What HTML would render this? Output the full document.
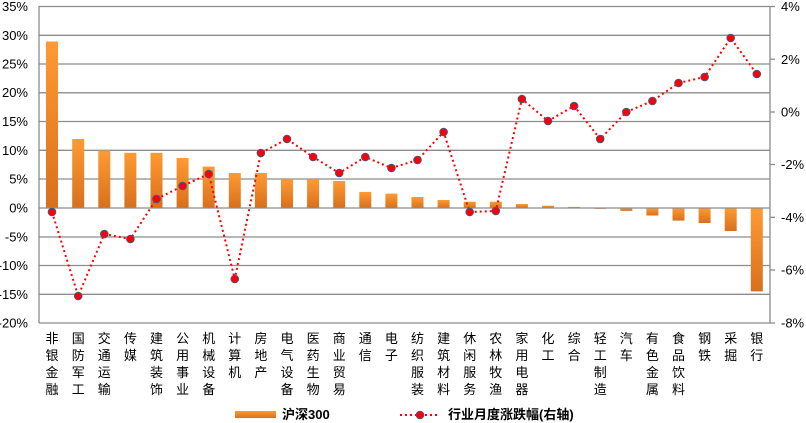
<!DOCTYPE html>
<html><head><meta charset="utf-8"><style>
html,body{margin:0;padding:0;background:#fff;}
svg{display:block;}
text{font-family:"Liberation Sans","Noto Sans CJK SC",sans-serif;fill:#000;}
</style></head><body>
<svg width="806" height="423" viewBox="0 0 806 423" xmlns="http://www.w3.org/2000/svg">
<defs>
<linearGradient id="g" x1="0" y1="0" x2="0" y2="1">
<stop offset="0" stop-color="#ff9a33"/><stop offset="1" stop-color="#d8701c"/>
</linearGradient>
</defs>
<g stroke="#8c8c8c" stroke-width="1.3">
<line x1="39" y1="6.5" x2="770" y2="6.5"/>
<line x1="39" y1="35.3" x2="770" y2="35.3"/>
<line x1="39" y1="64" x2="770" y2="64"/>
<line x1="39" y1="92.8" x2="770" y2="92.8"/>
<line x1="39" y1="121.5" x2="770" y2="121.5"/>
<line x1="39" y1="150.3" x2="770" y2="150.3"/>
<line x1="39" y1="179" x2="770" y2="179"/>
<line x1="39" y1="237" x2="770" y2="237"/>
<line x1="39" y1="265.5" x2="770" y2="265.5"/>
<line x1="39" y1="294.3" x2="770" y2="294.3"/>
<line x1="39" y1="323" x2="770" y2="323"/>
<line x1="39" y1="6" x2="39" y2="323"/>
<line x1="770" y1="6" x2="770" y2="323"/>
<line x1="770" y1="6.5" x2="775" y2="6.5"/>
<line x1="770" y1="59.2" x2="775" y2="59.2"/>
<line x1="770" y1="112" x2="775" y2="112"/>
<line x1="770" y1="164.5" x2="775" y2="164.5"/>
<line x1="770" y1="217.3" x2="775" y2="217.3"/>
<line x1="770" y1="270" x2="775" y2="270"/>
<line x1="770" y1="323" x2="775" y2="323"/>
</g>
<g font-size="13" text-anchor="end">
<text x="28" y="11">35%</text><text x="28" y="40">30%</text><text x="28" y="68.5">25%</text><text x="28" y="97">20%</text><text x="28" y="126">15%</text><text x="28" y="155">10%</text><text x="28" y="183.5">5%</text><text x="28" y="212.5">0%</text><text x="28" y="241.5">-5%</text><text x="28" y="270">-10%</text><text x="28" y="299">-15%</text><text x="28" y="327.5">-20%</text>
</g>
<g font-size="13">
<text x="781" y="11">4%</text><text x="781" y="64">2%</text><text x="781" y="116.5">0%</text><text x="781" y="169">-2%</text><text x="781" y="222">-4%</text><text x="781" y="274.5">-6%</text><text x="781" y="327.5">-8%</text>
</g>
<g fill="url(#g)">
<rect x="46" y="41.5" width="12" height="166.5"/>
<rect x="72.2" y="139" width="12" height="69"/>
<rect x="98.3" y="150.5" width="12" height="57.5"/>
<rect x="124.4" y="152.8" width="12" height="55.2"/>
<rect x="150.5" y="152.8" width="12" height="55.2"/>
<rect x="176.6" y="158" width="12" height="50"/>
<rect x="202.7" y="166.6" width="12" height="41.4"/>
<rect x="228.8" y="173" width="12" height="35"/>
<rect x="254.9" y="173" width="12" height="35"/>
<rect x="281" y="179.3" width="12" height="28.7"/>
<rect x="307.1" y="179.3" width="12" height="28.7"/>
<rect x="333.2" y="181" width="12" height="27"/>
<rect x="359.3" y="191.9" width="12" height="16.1"/>
<rect x="385.4" y="193.6" width="12" height="14.4"/>
<rect x="411.5" y="197" width="12" height="11"/>
<rect x="437.6" y="200" width="12" height="8"/>
<rect x="463.7" y="201.7" width="12" height="6.3"/>
<rect x="489.8" y="201.7" width="12" height="6.3"/>
<rect x="515.9" y="204" width="12" height="4"/>
<rect x="542" y="205.7" width="12" height="2.3"/>
<rect x="568.1" y="206.9" width="12" height="1.1"/>
<rect x="594.2" y="208" width="12" height="0.8"/>
<rect x="620.3" y="208" width="12" height="2.9"/>
<rect x="646.4" y="208" width="12" height="7.5"/>
<rect x="672.5" y="208" width="12" height="12.6"/>
<rect x="698.6" y="208" width="12" height="15"/>
<rect x="724.7" y="208" width="12" height="23"/>
<rect x="750.8" y="208" width="12" height="83.4"/>
</g>
<g stroke="#8c8c8c" stroke-width="1.3">
<line x1="39" y1="208" x2="770" y2="208"/>
</g>
<polyline fill="none" stroke="#ff0000" stroke-width="2" stroke-dasharray="2,3" points="52,212 78.2,296 104.3,234 130.4,239 156.5,199 182.6,186 208.7,174 234.8,279 260.9,153 287,139 313.1,157 339.2,173 365.3,157 391.4,168 417.5,160 443.6,132 469.7,212 495.8,211 521.9,99 548,121 574.1,106 600.2,139 626.3,112 652.4,101 678.5,83 704.6,77 730.7,38 756.8,74"/>
<g fill="#ff0000" stroke="#44558a" stroke-width="1">
<circle cx="52" cy="212" r="3.8"/><circle cx="78.2" cy="296" r="3.8"/><circle cx="104.3" cy="234" r="3.8"/><circle cx="130.4" cy="239" r="3.8"/><circle cx="156.5" cy="199" r="3.8"/><circle cx="182.6" cy="186" r="3.8"/><circle cx="208.7" cy="174" r="3.8"/><circle cx="234.8" cy="279" r="3.8"/><circle cx="260.9" cy="153" r="3.8"/><circle cx="287" cy="139" r="3.8"/><circle cx="313.1" cy="157" r="3.8"/><circle cx="339.2" cy="173" r="3.8"/><circle cx="365.3" cy="157" r="3.8"/><circle cx="391.4" cy="168" r="3.8"/><circle cx="417.5" cy="160" r="3.8"/><circle cx="443.6" cy="132" r="3.8"/><circle cx="469.7" cy="212" r="3.8"/><circle cx="495.8" cy="211" r="3.8"/><circle cx="521.9" cy="99" r="3.8"/><circle cx="548" cy="121" r="3.8"/><circle cx="574.1" cy="106" r="3.8"/><circle cx="600.2" cy="139" r="3.8"/><circle cx="626.3" cy="112" r="3.8"/><circle cx="652.4" cy="101" r="3.8"/><circle cx="678.5" cy="83" r="3.8"/><circle cx="704.6" cy="77" r="3.8"/><circle cx="730.7" cy="38" r="3.8"/><circle cx="756.8" cy="74" r="3.8"/>
</g>
<g font-size="13" text-anchor="middle">
<text x="52" y="343">非</text><text x="52" y="360">银</text><text x="52" y="377">金</text><text x="52" y="394">融</text>
<text x="78.2" y="343">国</text><text x="78.2" y="360">防</text><text x="78.2" y="377">军</text><text x="78.2" y="394">工</text>
<text x="104.3" y="343">交</text><text x="104.3" y="360">通</text><text x="104.3" y="377">运</text><text x="104.3" y="394">输</text>
<text x="130.4" y="343">传</text><text x="130.4" y="360">媒</text>
<text x="156.5" y="343">建</text><text x="156.5" y="360">筑</text><text x="156.5" y="377">装</text><text x="156.5" y="394">饰</text>
<text x="182.6" y="343">公</text><text x="182.6" y="360">用</text><text x="182.6" y="377">事</text><text x="182.6" y="394">业</text>
<text x="208.7" y="343">机</text><text x="208.7" y="360">械</text><text x="208.7" y="377">设</text><text x="208.7" y="394">备</text>
<text x="234.8" y="343">计</text><text x="234.8" y="360">算</text><text x="234.8" y="377">机</text>
<text x="260.9" y="343">房</text><text x="260.9" y="360">地</text><text x="260.9" y="377">产</text>
<text x="287" y="343">电</text><text x="287" y="360">气</text><text x="287" y="377">设</text><text x="287" y="394">备</text>
<text x="313.1" y="343">医</text><text x="313.1" y="360">药</text><text x="313.1" y="377">生</text><text x="313.1" y="394">物</text>
<text x="339.2" y="343">商</text><text x="339.2" y="360">业</text><text x="339.2" y="377">贸</text><text x="339.2" y="394">易</text>
<text x="365.3" y="343">通</text><text x="365.3" y="360">信</text>
<text x="391.4" y="343">电</text><text x="391.4" y="360">子</text>
<text x="417.5" y="343">纺</text><text x="417.5" y="360">织</text><text x="417.5" y="377">服</text><text x="417.5" y="394">装</text>
<text x="443.6" y="343">建</text><text x="443.6" y="360">筑</text><text x="443.6" y="377">材</text><text x="443.6" y="394">料</text>
<text x="469.7" y="343">休</text><text x="469.7" y="360">闲</text><text x="469.7" y="377">服</text><text x="469.7" y="394">务</text>
<text x="495.8" y="343">农</text><text x="495.8" y="360">林</text><text x="495.8" y="377">牧</text><text x="495.8" y="394">渔</text>
<text x="521.9" y="343">家</text><text x="521.9" y="360">用</text><text x="521.9" y="377">电</text><text x="521.9" y="394">器</text>
<text x="548" y="343">化</text><text x="548" y="360">工</text>
<text x="574.1" y="343">综</text><text x="574.1" y="360">合</text>
<text x="600.2" y="343">轻</text><text x="600.2" y="360">工</text><text x="600.2" y="377">制</text><text x="600.2" y="394">造</text>
<text x="626.3" y="343">汽</text><text x="626.3" y="360">车</text>
<text x="652.4" y="343">有</text><text x="652.4" y="360">色</text><text x="652.4" y="377">金</text><text x="652.4" y="394">属</text>
<text x="678.5" y="343">食</text><text x="678.5" y="360">品</text><text x="678.5" y="377">饮</text><text x="678.5" y="394">料</text>
<text x="704.6" y="343">钢</text><text x="704.6" y="360">铁</text>
<text x="730.7" y="343">采</text><text x="730.7" y="360">掘</text>
<text x="756.8" y="343">银</text><text x="756.8" y="360">行</text>
</g>
<rect x="235" y="411" width="41" height="7" fill="url(#g)"/>
<text x="282" y="419" font-size="13" font-weight="bold">沪深300</text>
<line x1="400" y1="415" x2="437" y2="415" stroke="#ff0000" stroke-width="2" stroke-dasharray="2,3"/>
<circle cx="420" cy="415" r="3.8" fill="#ff0000" stroke="#44558a"/>
<text x="448" y="419" font-size="13" font-weight="bold">行业月度涨跌幅(右轴)</text>
</svg>
</body></html>
